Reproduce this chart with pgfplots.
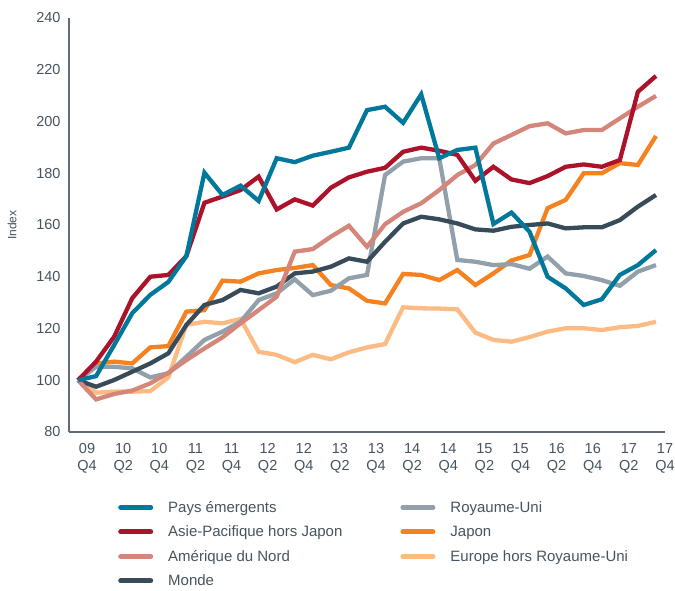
\documentclass[border=0pt]{standalone}
\usepackage{fontspec}
\setmainfont{Liberation Sans}
\usepackage{pgfplots}
\usepackage{pgfplotstable}
\pgfplotsset{compat=1.18}
\definecolor{cEM}{RGB}{0,120,155}
\definecolor{cAP}{RGB}{172,18,42}
\definecolor{cNA}{RGB}{212,134,122}
\definecolor{cWO}{RGB}{55,75,88}
\definecolor{cUK}{RGB}{145,160,170}
\definecolor{cJP}{RGB}{245,130,32}
\definecolor{cEU}{RGB}{253,187,132}
\definecolor{labelgray}{RGB}{70,84,94}
\definecolor{axisgray}{RGB}{95,108,118}

\pgfplotstableread{
i em ap na wo uk jp eu
0 100 100 100 100 100 100 100
1 101.6 107.2 92.6 97.5 105.2 106.5 95.2
2 113.6 116.8 94.7 100.1 105.2 107.2 95.6
3 125.9 131.7 96.0 103.3 104.6 106.5 95.6
4 133.0 140.0 98.8 106.5 101.1 112.7 95.8
5 138.0 140.7 102.9 110.4 102.7 113.2 101.1
6 148.0 148.0 107.8 121.4 109.1 126.5 121.4
7 180.2 168.6 112.3 129.1 115.6 127.1 122.6
8 171.6 171.0 116.6 131.0 118.8 138.5 122.0
9 175.2 173.5 122.0 134.9 122.6 138.1 123.7
10 169.3 178.7 127.1 133.6 131.0 141.3 111.0
11 185.8 166.0 132.3 136.2 133.6 142.6 109.8
12 184.3 169.9 149.7 141.3 139.0 143.4 107.0
13 186.8 167.5 150.7 142.0 132.9 144.5 109.8
14 188.3 174.4 155.5 143.9 134.6 136.8 108.1
15 189.9 178.4 159.7 147.1 139.4 135.5 110.8
16 204.4 180.6 151.6 145.8 140.7 130.7 112.7
17 205.7 182.1 160.3 153.5 179.3 129.7 114.0
18 199.5 188.3 165.1 160.6 184.5 141.1 128.2
19 210.5 189.9 168.4 163.2 185.8 140.7 127.8
20 185.8 188.7 173.5 162.2 185.8 138.7 127.7
21 189.0 187.1 179.3 160.6 146.5 142.6 127.4
22 189.9 177.1 183.2 158.3 145.8 136.8 118.4
23 160.4 182.5 191.5 157.8 144.5 141.3 115.6
24 164.8 177.6 194.8 159.3 144.9 146.3 114.9
25 157.4 176.2 198.2 160.0 143.1 148.4 116.7
26 140.0 178.9 199.3 160.6 147.8 166.5 118.8
27 135.5 182.5 195.4 158.7 141.3 169.7 120.1
28 129.1 183.4 196.7 159.1 140.3 180.0 120.1
29 131.3 182.5 196.7 159.1 138.7 180.0 119.4
30 140.7 185.1 201.2 161.9 136.5 183.9 120.5
31 144.5 211.5 205.7 167.1 142.0 183.2 121.0
32 150.3 217.6 209.9 171.6 144.5 194.4 122.6
}\data

\begin{document}
\begin{tikzpicture}
\begin{axis}[name=ax,
  scale only axis, width=596pt, height=414pt,
  xmin=-0.5, xmax=32.5, ymin=80, ymax=240,
  axis lines=left,
  axis line style={-, draw=axisgray, line width=1.2pt},
  major tick length=0pt,
  ytick={80,100,...,240},
  xtick={0.5,2.5,4.5,6.5,8.5,10.5,12.5,14.5,16.5,18.5,20.5,22.5,24.5,26.5,28.5,30.5,32.5},
  xticklabels={{09\\Q4},{10\\Q2},{10\\Q4},{11\\Q2},{11\\Q4},{12\\Q2},{12\\Q4},{13\\Q2},{13\\Q4},{14\\Q2},{14\\Q4},{15\\Q2},{15\\Q4},{16\\Q2},{16\\Q4},{17\\Q2},{17\\Q4}},
  /pgf/number format/assume math mode=true,
  ticklabel style={font=\fontsize{14.5}{17}\selectfont, text=labelgray},
  xticklabel style={align=center, yshift=-8pt},
  yticklabel style={xshift=-5pt},
  ylabel={Index},
  ylabel style={at={(axis description cs:-0.0956,0.5)}, anchor=center, font=\fontsize{12}{14}\selectfont, text=labelgray},
  every axis plot/.append style={line width=4.3pt},
  legend columns=2,
  legend cell align=left,
  legend image code/.code={\draw[line width=5pt, line cap=round] (2.5pt,0pt) -- (32.5pt,0pt);},
  legend style={at={(rel axis cs:0,0)}, anchor=north west, xshift=49pt, yshift=-67pt,
    draw=none, fill=none, inner sep=0pt,
    font=\fontsize{15}{18}\selectfont, text=labelgray, row sep=8pt,
    /tikz/every odd column/.append style={column sep=13pt},
    /tikz/every even column/.append style={column sep=56pt}},
]
\addplot[cEU, forget plot] table[x=i, y=eu] {\data};
\addplot[cJP, forget plot] table[x=i, y=jp] {\data};
\addplot[cUK, forget plot] table[x=i, y=uk] {\data};
\addplot[cWO, forget plot] table[x=i, y=wo] {\data};
\addplot[cNA, forget plot] table[x=i, y=na] {\data};
\addplot[cAP, forget plot] table[x=i, y=ap] {\data};
\addplot[cEM, forget plot] table[x=i, y=em] {\data};
\addlegendimage{cEM}\addlegendentry{Pays émergents}
\addlegendimage{cUK}\addlegendentry{Royaume-Uni}
\addlegendimage{cAP}\addlegendentry{Asie-Pacifique hors Japon}
\addlegendimage{cJP}\addlegendentry{Japon}
\addlegendimage{cNA}\addlegendentry{Amérique du Nord}
\addlegendimage{cEU}\addlegendentry{Europe hors Royaume-Uni}
\addlegendimage{cWO}\addlegendentry{Monde}
\end{axis}
\pgfresetboundingbox
\path[use as bounding box] ([shift={(-69pt,-158pt)}]ax.south west) rectangle ([shift={(606pt,432pt)}]ax.south west);
\end{tikzpicture}
\end{document}
